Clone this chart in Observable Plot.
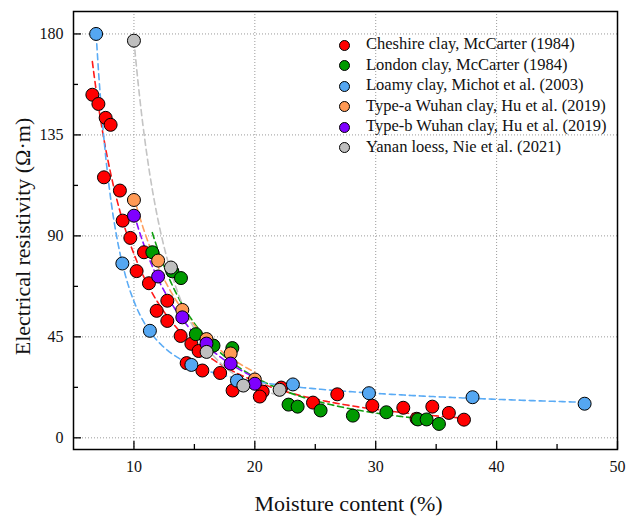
<!DOCTYPE html>
<html>
<head>
<meta charset="utf-8">
<script src="https://cdn.jsdelivr.net/npm/d3@7"></script>
<script src="https://cdn.jsdelivr.net/npm/@observablehq/plot@0.6"></script>
<style>
  html, body { margin: 0; padding: 0; background: #fff; }
  #wrap { position: relative; width: 627px; height: 516px; font-family: "Liberation Serif", "Times New Roman", serif; }
  #legend { position: absolute; left: 338px; top: 34px; }
  .row { position: absolute; white-space: nowrap; font-size: 16.5px; color: #111; }
  .sw { position: absolute; width: 11px; height: 11px; border-radius: 50%; border: 1px solid #000; box-sizing: border-box; }
</style>
</head>
<body>
<div id="wrap"><div id="chart"></div><div id="legend"></div></div>
<script>
// ---------- data ----------
const seriesNames = [
  "Cheshire clay, McCarter (1984)",
  "London clay, McCarter (1984)",
  "Loamy clay, Michot et al. (2003)",
  "Type-a Wuhan clay, Hu et al. (2019)",
  "Type-b Wuhan clay, Hu et al. (2019)",
  "Yanan loess, Nie et al. (2021)"
];
const seriesColors = ["#ff0000", "#009a00", "#55a7f2", "#ff9a55", "#7f00ff", "#bfbfbf"];
const lineColors   = ["#ff1a1a", "#10a010", "#5aabf5", "#ffa05f", "#8a10ff", "#c4c4c4"];

const cheshireX = [6.56, 7.06, 7.66, 8.07, 7.52, 8.84, 9.07, 9.70, 10.22, 10.83, 11.24, 12.76, 11.88, 12.76, 13.86, 14.75, 15.35, 14.36, 15.66, 17.13, 18.16, 20.65, 20.41, 22.18, 24.81, 26.82, 29.72, 32.28, 33.38, 34.68, 36.05, 37.30];
const cheshireY = [152.9, 148.8, 142.6, 139.5, 116.1, 110.2, 96.8, 89.1, 74.3, 82.7, 68.9, 61.1, 56.6, 52.1, 45.4, 41.9, 38.7, 33.3, 30.0, 28.9, 21.1, 20.6, 18.4, 22.4, 15.7, 19.4, 14.3, 13.4, 8.5, 13.9, 11.1, 8.1];

const londonX = [11.52, 13.18, 13.89, 15.12, 16.58, 18.14, 22.79, 23.54, 25.44, 28.11, 30.88, 33.49, 34.21, 35.23];
const londonY = [82.7, 74.2, 71.2, 46.2, 41.1, 40.0, 14.8, 13.9, 12.2, 9.9, 11.4, 8.2, 8.2, 6.2];

const loamyX = [6.87, 9.04, 11.32, 14.75, 18.52, 23.15, 29.44, 38.01, 47.28];
const loamyY = [180.0, 77.7, 47.7, 32.5, 25.5, 23.8, 19.9, 18.1, 15.2];

const wuhanAX = [10, 12, 14, 16, 18, 20];
const wuhanAY = [106.0, 79.0, 57.0, 44.0, 37.6, 26.0];

const wuhanBX = [10, 12, 14, 16, 18, 20];
const wuhanBY = [99.0, 71.9, 53.7, 42.0, 33.1, 24.1];

const yananX = [10.0, 13.06, 16.01, 19.05, 22.05];
const yananY = [177.0, 75.9, 38.3, 23.3, 21.4];

const xTicks = [10, 20, 30, 40, 50];
const xMinor = [15, 25, 35, 45];
const yTicks = [0, 45, 90, 135, 180];
const yMinor = [22.5, 67.5, 112.5, 157.5];
const xGrid = [10, 20, 30, 40];
const yGrid = [0, 45, 90, 135, 180];

// ---------- build tables ----------
const seriesX = [cheshireX, londonX, loamyX, wuhanAX, wuhanBX, yananX];
const seriesY = [cheshireY, londonY, loamyY, wuhanAY, wuhanBY, yananY];
const points = [];
seriesNames.forEach((name, i) => {
  seriesX[i].forEach((x, j) => points.push({series: name, idx: i, x, y: seriesY[i][j]}));
});

// least-squares fit y = a*x^b + c*x^d  (grid over b,d; closed form for a,c >= 0)
function fitTwoPower(xs, ys) {
  let best = null;
  for (let b = -10; b <= -0.3; b += 0.05) {
    const u = xs.map(x => Math.pow(x, b));
    for (let d = b + 0.05; d <= 0.001; d += 0.02) {
      const v = xs.map(x => Math.pow(x, d));
      let suu = 0, svv = 0, suv = 0, suy = 0, svy = 0;
      for (let k = 0; k < xs.length; k++) {
        suu += u[k] * u[k]; svv += v[k] * v[k]; suv += u[k] * v[k];
        suy += u[k] * ys[k]; svy += v[k] * ys[k];
      }
      const det = suu * svv - suv * suv;
      if (Math.abs(det) < 1e-300) continue;
      const a = (suy * svv - svy * suv) / det;
      const c = (svy * suu - suy * suv) / det;
      if (a < 0 || c < 0) continue;
      let sse = 0;
      for (let k = 0; k < xs.length; k++) sse += (a * u[k] + c * v[k] - ys[k]) ** 2;
      if (!best || sse < best.sse) best = {a, b, c, d, sse};
    }
  }
  return best;
}
const fitLines = [];
seriesNames.forEach((name, i) => {
  const f = fitTwoPower(seriesX[i], seriesY[i]);
  const [x0, x1] = d3.extent(seriesX[i]);
  const n = 200;
  for (let k = 0; k <= n; k++) {
    const x = x0 + (x1 - x0) * k / n;
    fitLines.push({series: name, idx: i, x, y: f.a * Math.pow(x, f.b) + f.c * Math.pow(x, f.d)});
  }
});

// ---------- plot ----------
const W = 627, H = 516;
const mL = 73, mR = 10, mT = 11, mB = 67;
const plotW = W - mL - mR, plotH = H - mT - mB;

const chart = Plot.plot({
  width: W, height: H,
  marginLeft: mL, marginRight: mR, marginTop: mT, marginBottom: mB,
  style: {fontFamily: "'Liberation Serif', 'Times New Roman', serif", background: "white", color: "#111"},
  x: {domain: [5, 50]},
  y: {domain: [-5.2, 190]},
  marks: [
    Plot.ruleX(xGrid, {x: d => d, stroke: "#9a9a9a", strokeWidth: 1, strokeDasharray: "1,2"}),
    Plot.ruleY(yGrid, {y: d => d, stroke: "#9a9a9a", strokeWidth: 1, strokeDasharray: "1,2"}),
    Plot.line(fitLines, {x: "x", y: "y", z: "series", stroke: d => lineColors[d.idx], strokeWidth: 1.6, strokeDasharray: "6,4"}),
    Plot.dot(points, {x: "x", y: "y", r: 6.5, fill: d => seriesColors[d.idx], stroke: "#000", strokeWidth: 1}),
    // inward ticks
    Plot.ruleX(xTicks, {x: d => d, insetTop: plotH - 8, stroke: "#000", strokeWidth: 1.3}),
    Plot.ruleX(xMinor, {x: d => d, insetTop: plotH - 5, stroke: "#000", strokeWidth: 1.3}),
    Plot.ruleY(yTicks, {y: d => d, insetRight: plotW - 8, stroke: "#000", strokeWidth: 1.3}),
    Plot.ruleY(yMinor, {y: d => d, insetRight: plotW - 5, stroke: "#000", strokeWidth: 1.3}),
    Plot.axisX(xTicks, {tickSize: 0, tickPadding: 11, fontSize: 16, label: null}),
    Plot.axisY(yTicks, {tickSize: 0, tickPadding: 10, fontSize: 16, label: null}),
    Plot.text(["Moisture content (%)"], {frameAnchor: "bottom", dx: 3, dy: 54, fontSize: 22, text: d => d, lineAnchor: "middle", textAnchor: "middle"}),
    Plot.text(["Electrical resistivity (Ω·m)"], {frameAnchor: "left", dx: -51, dy: 6, rotate: -90, fontSize: 22, text: d => d, lineAnchor: "middle", textAnchor: "middle"}),
    Plot.frame({stroke: "#000", strokeWidth: 1.5})
  ]
});
document.getElementById("chart").appendChild(chart);

// ---------- legend ----------
const legend = document.getElementById("legend");
seriesNames.forEach((name, i) => {
  const sw = document.createElement("div");
  sw.className = "sw";
  sw.style.background = seriesColors[i];
  sw.style.left = "1px";
  sw.style.top = (i * 20.5 + 5.5) + "px";
  legend.appendChild(sw);
  const row = document.createElement("div");
  row.className = "row";
  row.style.left = "28px";
  row.style.top = (i * 20.5) + "px";
  row.textContent = name;
  legend.appendChild(row);
});
</script>
</body>
</html>
